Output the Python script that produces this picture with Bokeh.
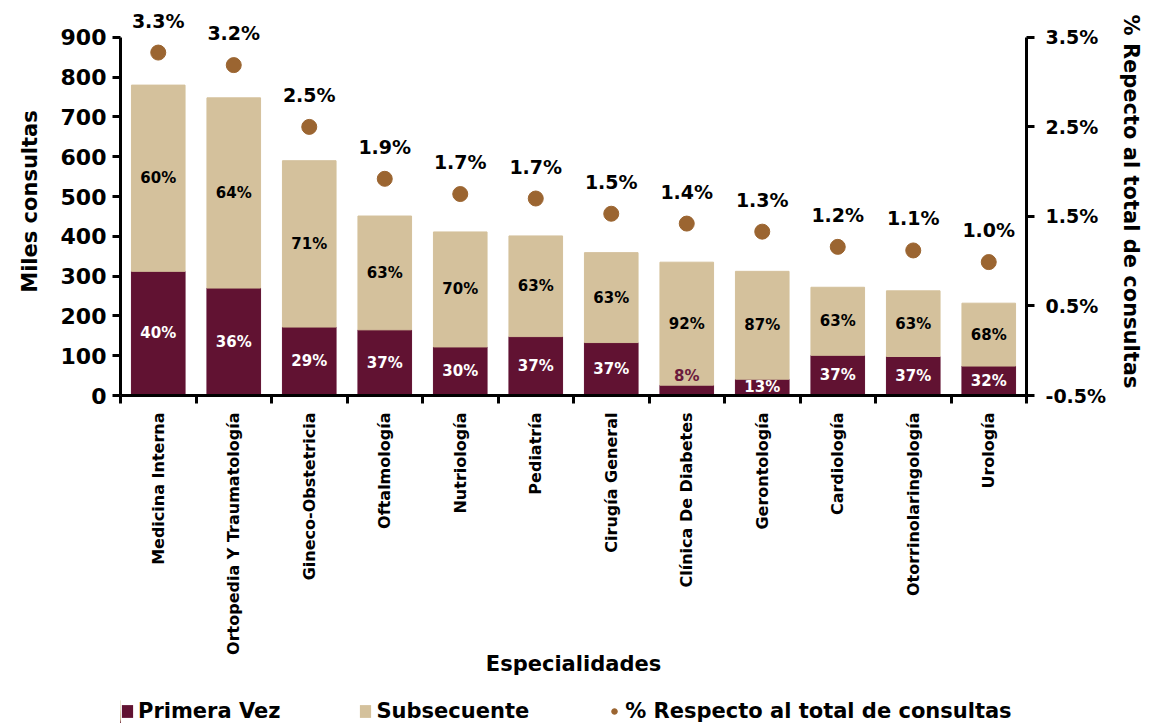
from bokeh.plotting import figure
from bokeh.layouts import column
from bokeh.models import (ColumnDataSource, Range1d, LinearAxis, FixedTicker,
                          NumeralTickFormatter, Legend, LegendItem)
from bokeh.embed import file_html
from bokeh.resources import INLINE
from bokeh.core.properties import value

categories = ["Medicina Interna", "Ortopedia Y Traumatología", "Gineco-Obstetricia",
              "Oftalmología", "Nutriología", "Pediatría", "Cirugía General",
              "Clínica De Diabetes", "Gerontología", "Cardiología",
              "Otorrinolaringología", "Urología"]
primera_vez = [312, 270, 172, 165, 122, 148, 133, 26, 41, 101, 98, 74]
total = [780, 748, 590, 451, 411, 401, 359, 335, 312, 272, 263, 232]
pct_primera = [40, 36, 29, 37, 30, 37, 37, 8, 13, 37, 37, 32]
pct_subsecuente = [60, 64, 71, 63, 70, 63, 63, 92, 87, 63, 63, 68]
pct_total = [3.33, 3.19, 2.50, 1.92, 1.75, 1.70, 1.53, 1.42, 1.33, 1.16, 1.12, 0.99]
pct_total_labels = ["3.3%", "3.2%", "2.5%", "1.9%", "1.7%", "1.7%", "1.5%",
                    "1.4%", "1.3%", "1.2%", "1.1%", "1.0%"]
series_names = ["Primera Vez", "Subsecuente", "% Respecto al total de consultas"]

FONT = "DejaVu Sans"
MAROON = "#611232"
TAN = "#D4C19C"
BROWN = "#9B6531"

n = len(categories)
xs = [i + 0.5 for i in range(n)]
subsecuente = [t - p for t, p in zip(total, primera_vez)]
small = [p < 30 for p in primera_vez]

src = ColumnDataSource(dict(
    x=xs,
    primera=primera_vez,
    total=total,
    pv_mid=[p if s else p / 2 for p, s in zip(primera_vez, small)],
    sub_mid=[p + s / 2 for p, s in zip(primera_vez, subsecuente)],
    pv_lab=[f"{v}%" for v in pct_primera],
    sub_lab=[f"{v}%" for v in pct_subsecuente],
    pv_col=["#6b1a3c" if s else "white" for s in small],
    pv_base=["bottom" if s else "middle" for s in small],
    pct=[v / 100 for v in pct_total],
    pct_lab=pct_total_labels,
))

W = 1146
YMAX = 975
p = figure(width=W, height=693, output_backend="svg", toolbar_location=None,
           x_range=Range1d(0, n), y_range=Range1d(0, YMAX),
           min_border_left=120, min_border_right=114, min_border_top=7,
           min_border_bottom=298)
p.outline_line_color = None
p.grid.grid_line_color = None
p.background_fill_color = "white"
p.border_fill_color = "white"

p.extra_y_ranges = {"pct": Range1d(-0.005, -0.005 + 0.04 * YMAX / 900)}

p.vbar(x="x", bottom=0, top="primera", width=0.71, color=MAROON, source=src)
p.vbar(x="x", bottom="primera", top="total", width=0.71, color=TAN, source=src)
p.scatter(x="x", y="pct", size=15, color=BROWN, y_range_name="pct", source=src)

p.text(x="x", y="sub_mid", text="sub_lab", source=src, text_font=value(FONT),
       text_font_style="bold", text_font_size="15px", text_align="center",
       text_baseline="middle", text_color="black")
p.text(x="x", y="pv_mid", text="pv_lab", source=src, text_font=value(FONT),
       text_font_style="bold", text_font_size="15px", text_align="center",
       text_baseline="pv_base", text_color="pv_col")
p.text(x="x", y="pct", text="pct_lab", source=src, y_range_name="pct",
       text_font=value(FONT), text_font_style="bold", text_font_size="19px",
       text_align="center", text_baseline="alphabetic", y_offset=-32,
       text_color="black")

# x axis
xa = p.xaxis[0]
xa.ticker = FixedTicker(ticks=xs, minor_ticks=list(range(0, n + 1)))
xa.major_label_overrides = {x: c for x, c in zip(xs, categories)}
xa.major_label_orientation = 1.5708
xa.major_tick_out = 0
xa.major_tick_in = 0
xa.minor_tick_out = 8
xa.minor_tick_in = 0
xa.minor_tick_line_width = 3
xa.minor_tick_line_color = "black"
xa.axis_line_width = 3
xa.axis_line_color = "black"
xa.major_label_standoff = 9
xa.major_label_text_font = FONT
xa.major_label_text_font_style = "bold"
xa.major_label_text_font_size = "16px"
xa.major_label_text_color = "black"
xa.axis_label = "Especialidades"
xa.axis_label_text_font = FONT
xa.axis_label_text_font_style = "bold"
xa.axis_label_text_font_size = "21px"
xa.axis_label_text_color = "black"
xa.axis_label_standoff = -6

# left axis
ya = p.yaxis[0]
ya.ticker = FixedTicker(ticks=list(range(0, 901, 100)))
ya.bounds = (0, 900)
ya.major_tick_out = 8
ya.major_tick_in = 0
ya.minor_tick_out = 0
ya.minor_tick_in = 0
ya.major_tick_line_width = 3
ya.axis_line_width = 3
ya.axis_line_color = "black"
ya.major_label_text_font = FONT
ya.major_label_text_font_style = "bold"
ya.major_label_text_font_size = "22px"
ya.major_label_text_color = "black"
ya.major_label_standoff = 6
ya.axis_label = "Miles consultas"
ya.axis_label_text_font = FONT
ya.axis_label_text_font_style = "bold"
ya.axis_label_text_font_size = "21px"
ya.axis_label_text_color = "black"
ya.axis_label_standoff = 16

# right axis
ra = LinearAxis(y_range_name="pct",
                ticker=FixedTicker(ticks=[-0.005, 0.005, 0.015, 0.025, 0.035]),
                formatter=NumeralTickFormatter(format="0.0%"),
                bounds=(-0.005, 0.035))
ra.major_tick_out = 8
ra.major_tick_in = 0
ra.minor_tick_out = 0
ra.minor_tick_in = 0
ra.major_tick_line_width = 3
ra.axis_line_width = 3
ra.axis_line_color = "black"
ra.major_label_text_font = FONT
ra.major_label_text_font_style = "bold"
ra.major_label_text_font_size = "19px"
ra.major_label_text_color = "black"
ra.major_label_standoff = 11
ra.axis_label = "% Repecto al total de consultas"
ra.axis_label_text_font = FONT
ra.axis_label_text_font_style = "bold"
ra.axis_label_text_font_size = "21px"
ra.axis_label_text_color = "black"
ra.axis_label_standoff = 10
p.add_layout(ra, "right")

# legend strip (separate small figure below the chart; its glyphs lie outside its view)
lf = figure(width=W, height=30, output_backend="svg", toolbar_location=None,
            x_range=Range1d(n + 5, n + 10), y_range=Range1d(0, 1000), min_border=0)
lf.axis.visible = False
lf.grid.grid_line_color = None
lf.outline_line_color = None
lf.background_fill_color = "white"
lf.border_fill_color = "white"
l1 = lf.vbar(x="x", bottom=0, top="primera", width=0.71, fill_color=MAROON,
             line_color=None, source=src)
l2 = lf.vbar(x="x", bottom="primera", top="total", width=0.71, fill_color=TAN,
             line_color=None, source=src)
l3 = lf.scatter(x="x", y="total", size=15, color=BROWN, source=src)
legend = Legend(items=[
    LegendItem(label=series_names[0], renderers=[l1]),
    LegendItem(label=series_names[1], renderers=[l2]),
    LegendItem(label=series_names[2], renderers=[l3]),
], orientation="horizontal", location=(0, 0), spacing=78,
   label_text_font=FONT, label_text_font_style="bold", label_text_font_size="21px",
   label_text_color="black", glyph_width=14, glyph_height=16, label_standoff=4,
   border_line_color=None, background_fill_alpha=0, padding=0, margin=0)
lf.add_layout(legend, "center")

layout = column(p, lf, spacing=0)
open("out.html", "w").write(file_html(layout, INLINE))
